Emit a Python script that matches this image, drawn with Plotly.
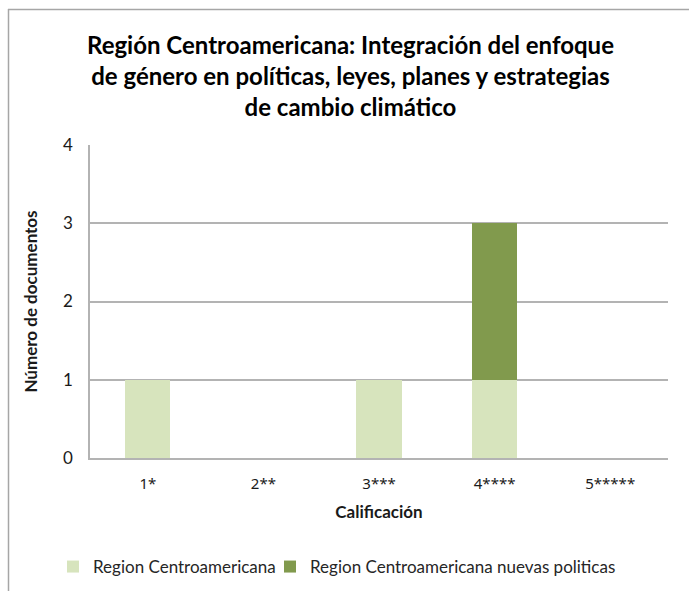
import plotly.graph_objects as go

# Datos
categorias = ["1*", "2**", "3***", "4****", "5*****"]
region = [1, 0, 1, 1, 0]
nuevas_politicas = [0, 0, 0, 2, 0]

FONT = "Lato"
W, H = 689, 591
L, R, T, B = 90, 21, 145, 133
pw, ph = W - L - R, H - T - B

def px_x(x):
    return (x - L) / pw

def px_y(y):
    return (H - B - y) / ph

fig = go.Figure()
fig.add_trace(go.Bar(x=categorias, y=region, name="Region Centroamericana",
                     marker=dict(color="#d7e4bd", line=dict(width=0)), legend="legend"))
fig.add_trace(go.Bar(x=categorias, y=nuevas_politicas, name="Region Centroamericana nuevas politicas",
                     marker=dict(color="#819a4d", line=dict(width=0)), legend="legend2"))

leyenda = dict(orientation="h", y=px_y(567), xanchor="left", yanchor="middle",
               bgcolor="rgba(0,0,0,0)", font=dict(size=17, color="#262626"), itemwidth=30)

fig.update_layout(
    width=W, height=H,
    margin=dict(l=L, r=R, t=T, b=B, autoexpand=False),
    barmode="stack",
    bargap=0.61,
    plot_bgcolor="white",
    paper_bgcolor="white",
    font=dict(family=FONT, size=17, color="#1a1a1a"),
    showlegend=True,
    legend=dict(leyenda, x=px_x(53)),
    legend2=dict(leyenda, x=px_x(270)),
    annotations=[dict(
        text="<b>Región Centroamericana: Integración del enfoque<br>"
             "de género en políticas, leyes, planes y estrategias<br>"
             "de cambio climático</b>",
        xref="paper", yref="paper", x=px_x(350), y=px_y(75),
        xanchor="center", yanchor="middle", showarrow=False,
        font=dict(size=24, color="#000000", family=FONT),
    )],
    shapes=[
        dict(type="line", xref="paper", yref="paper", x0=px_x(8), x1=px_x(700),
             y0=px_y(9.5), y1=px_y(9.5), line=dict(color="#a6a6a6", width=1.5)),
        dict(type="line", xref="paper", yref="paper", x0=px_x(8.5), x1=px_x(8.5),
             y0=px_y(600), y1=px_y(9), line=dict(color="#a6a6a6", width=1.5)),
    ],
)

fig.update_xaxes(
    showline=True, linecolor="#b3b3b3", linewidth=1.5, automargin=False,
    ticks="", ticklabelstandoff=11,
    tickfont=dict(family="Noto Sans", size=15),
    title=dict(text="<b>Calificación</b>", font=dict(size=17), standoff=14),
)
fig.update_yaxes(
    range=[0, 4], dtick=1, automargin=False,
    showline=True, linecolor="#b3b3b3", linewidth=1.5,
    showgrid=True, gridcolor="#b3b3b3", gridwidth=1.5,
    zeroline=False, ticks="", ticklabelstandoff=12,
    title=dict(text="<b>Número de documentos</b>", font=dict(size=17), standoff=21),
)

# quitar el margen por defecto del <body> para que el grafico quede en (0, 0)
fig.write_html("out.html", config={"displayModeBar": False},
               post_script="document.body.style.margin='0';")
